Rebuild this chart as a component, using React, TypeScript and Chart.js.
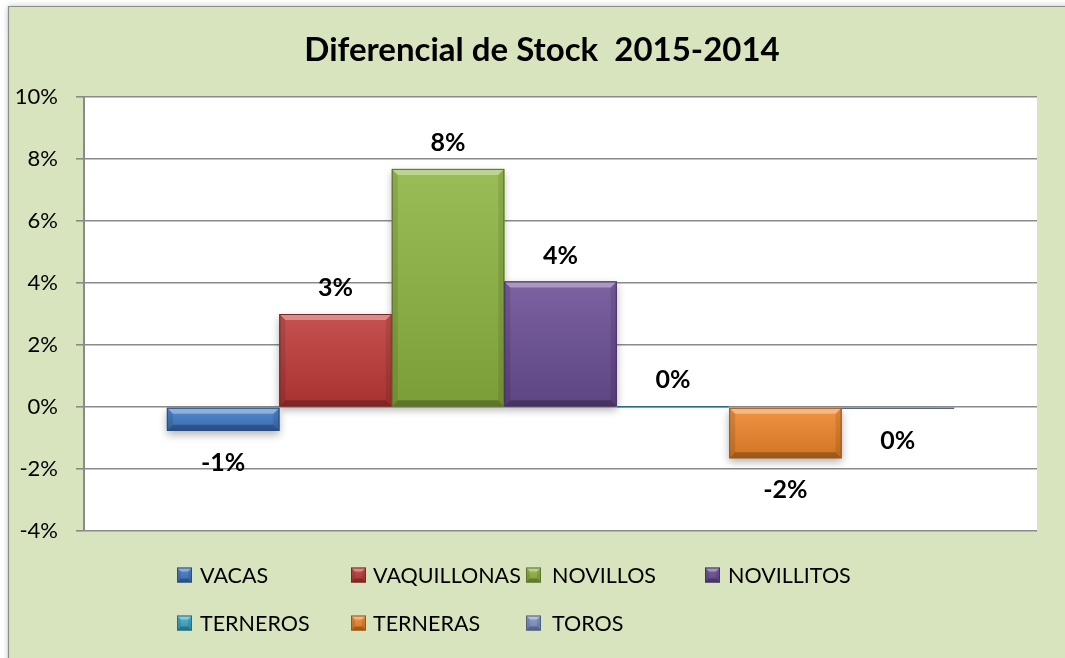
import React, { useEffect, useRef } from "react";
import { Chart, registerables } from "chart.js";

Chart.register(...registerables);

const chartTitle = "Diferencial de Stock  2015-2014";
const categories = [""];
const seriesNames = ["VACAS", "VAQUILLONAS", "NOVILLOS", "NOVILLITOS", "TERNEROS", "TERNERAS", "TOROS"];
const seriesValues = [-0.77, 3.0, 7.68, 4.05, 0.02, -1.65, -0.06];
const seriesColors = ["#3F7AC6", "#BE3A37", "#8DB440", "#6A4D94", "#3AA9C8", "#EE8529", "#7E93C4"];
const yMin = -4;
const yMax = 10;
const yStep = 2;

const FONT = "Lato, 'Open Sans', sans-serif";

function shade(hex: string, amt: number): string {
  const n = parseInt(hex.slice(1), 16);
  let r = (n >> 16) & 255, g = (n >> 8) & 255, b = n & 255;
  if (amt >= 0) {
    r = Math.round(r + (255 - r) * amt); g = Math.round(g + (255 - g) * amt); b = Math.round(b + (255 - b) * amt);
  } else {
    r = Math.round(r * (1 + amt)); g = Math.round(g * (1 + amt)); b = Math.round(b * (1 + amt));
  }
  return `rgb(${r},${g},${b})`;
}

function bevelRect(ctx: CanvasRenderingContext2D, l: number, t: number, r: number, bt: number, color: string, bev: number) {
  const w = r - l, h = bt - t;
  const g = ctx.createLinearGradient(0, t, 0, bt);
  g.addColorStop(0, shade(color, 0.12));
  g.addColorStop(1, shade(color, -0.12));
  ctx.fillStyle = g;
  ctx.fillRect(l, t, w, h);
  const b = Math.min(bev, h / 2, w / 2);
  if (h >= 4) {
    ctx.fillStyle = "rgba(255,255,255,0.35)";
    ctx.beginPath(); ctx.moveTo(l, t); ctx.lineTo(r, t); ctx.lineTo(r - b, t + b); ctx.lineTo(l + b, t + b); ctx.closePath(); ctx.fill();
    ctx.fillStyle = "rgba(0,0,0,0.25)";
    ctx.beginPath(); ctx.moveTo(l, bt); ctx.lineTo(r, bt); ctx.lineTo(r - b, bt - b); ctx.lineTo(l + b, bt - b); ctx.closePath(); ctx.fill();
    ctx.fillStyle = "rgba(0,0,0,0.10)";
    ctx.beginPath(); ctx.moveTo(l, t); ctx.lineTo(l + b, t + b); ctx.lineTo(l + b, bt - b); ctx.lineTo(l, bt); ctx.closePath(); ctx.fill();
    ctx.beginPath(); ctx.moveTo(r, t); ctx.lineTo(r - b, t + b); ctx.lineTo(r - b, bt - b); ctx.lineTo(r, bt); ctx.closePath(); ctx.fill();
  }
  ctx.strokeStyle = shade(color, -0.35);
  ctx.lineWidth = 1;
  ctx.strokeRect(l + 0.5, t + 0.5, Math.max(w - 1, 0), Math.max(h - 1, 0));
}

const framePlugin = {
  id: "frame",
  beforeDraw(chart: any) {
    const { ctx, chartArea } = chart;
    ctx.save();
    ctx.shadowColor = "rgba(0,0,0,0.25)";
    ctx.shadowBlur = 6;
    ctx.fillStyle = "#D8E4BD";
    ctx.fillRect(8, 6, 1120, 720);
    ctx.restore();
    ctx.save();
    ctx.strokeStyle = "#8C8C8C";
    ctx.lineWidth = 1.2;
    ctx.beginPath();
    ctx.moveTo(8.5, 700); ctx.lineTo(8.5, 6.5); ctx.lineTo(1100, 6.5);
    ctx.stroke();
    ctx.fillStyle = "#FFFFFF";
    ctx.fillRect(chartArea.left, chartArea.top, chartArea.right - chartArea.left, chartArea.bottom - chartArea.top);
    ctx.fillStyle = "#000";
    ctx.font = `bold 33px ${FONT}`;
    ctx.textAlign = "center";
    ctx.textBaseline = "middle";
    ctx.fillText(chartTitle, 542, 50);
    ctx.restore();
  },
};

const barPlugin = {
  id: "bevelBars",
  afterDatasetsDraw(chart: any) {
    const { ctx } = chart;
    ctx.save();
    chart.data.datasets.forEach((ds: any, i: number) => {
      const el = chart.getDatasetMeta(i).data[0];
      if (!el) return;
      const l = el.x - el.width / 2, r = el.x + el.width / 2;
      const t = Math.min(el.y, el.base), bt = Math.max(el.y, el.base);
      if (bt - t >= 4) {
        ctx.save();
        ctx.shadowColor = "rgba(0,0,0,0.3)";
        ctx.shadowBlur = 8;
        ctx.shadowOffsetY = 4;
        ctx.fillStyle = ds.backgroundColor;
        ctx.fillRect(l, t, r - l, bt - t);
        ctx.restore();
      }
    });
    chart.data.datasets.forEach((ds: any, i: number) => {
      const el = chart.getDatasetMeta(i).data[0];
      if (!el) return;
      const l = el.x - el.width / 2, r = el.x + el.width / 2;
      let t = Math.min(el.y, el.base), bt = Math.max(el.y, el.base);
      if (bt - t < 1) bt = t + 1;
      bevelRect(ctx, l, t, r, bt, ds.backgroundColor, 6);
    });
    ctx.fillStyle = "#000";
    ctx.font = `bold 25px ${FONT}`;
    ctx.textAlign = "center";
    ctx.textBaseline = "middle";
    chart.data.datasets.forEach((ds: any, i: number) => {
      const el = chart.getDatasetMeta(i).data[0];
      if (!el) return;
      const v = ds.data[0];
      const label = `${Math.round(v)}%`;
      if (v >= 0) ctx.fillText(label, el.x, Math.min(el.y, el.base) - 26);
      else ctx.fillText(label, el.x, Math.max(el.y, el.base) + 32);
    });
    ctx.restore();
  },
};

const legendCols = [177, 351, 526, 705];
const legendTextX = [200, 373, 552, 728];
const legendRows = [575, 623];

const legendPlugin = {
  id: "gridLegend",
  afterDraw(chart: any) {
    const { ctx } = chart;
    ctx.save();
    ctx.font = `21.5px ${FONT}`;
    ctx.textAlign = "left";
    ctx.textBaseline = "middle";
    chart.data.datasets.forEach((ds: any, i: number) => {
      const row = i < 4 ? 0 : 1;
      const col = i < 4 ? i : i - 4;
      const y = legendRows[row];
      const x = legendCols[col];
      const s = 15;
      bevelRect(ctx, x, y - s / 2, x + s, y + s / 2, ds.backgroundColor, 4);
      ctx.fillStyle = "#000";
      ctx.fillText(ds.label, legendTextX[col], y + 1);
    });
    ctx.restore();
  },
};

export default function App() {
  const ref = useRef<HTMLCanvasElement | null>(null);
  useEffect(() => {
    if (!ref.current) return;
    const chart = new Chart(ref.current, {
      type: "bar",
      data: {
        labels: categories,
        datasets: seriesNames.map((name, i) => ({
          label: name,
          data: [seriesValues[i]],
          backgroundColor: seriesColors[i],
          borderWidth: 0,
          categoryPercentage: 0.826,
          barPercentage: 1.0,
        })),
      },
      options: {
        animation: false,
        responsive: false,
        layout: { padding: { left: 0, top: 97, right: 28, bottom: 127 } },
        plugins: {
          legend: { display: false },
          title: { display: false },
          tooltip: { enabled: false },
        },
        scales: {
          x: { display: false },
          y: {
            min: yMin,
            max: yMax,
            afterFit: (scale: any) => { scale.width = 84; },
            ticks: {
              stepSize: yStep,
              padding: 18,
              color: "#000",
              font: { family: FONT, size: 22 },
              callback: (v: any) => `${v}%`,
            },
            grid: { color: "#8A8A8A", lineWidth: 1.6, tickLength: 8, drawTicks: true },
            border: { display: true, color: "#8A8A8A", width: 2 },
          },
        },
      },
      plugins: [framePlugin, barPlugin, legendPlugin],
    } as any);
    return () => chart.destroy();
  }, []);
  return (
    <div style={{ position: "fixed", left: 0, top: 0, width: 1065, height: 658 }}>
      <canvas ref={ref} width={1065} height={658} style={{ display: "block" }} />
    </div>
  );
}
